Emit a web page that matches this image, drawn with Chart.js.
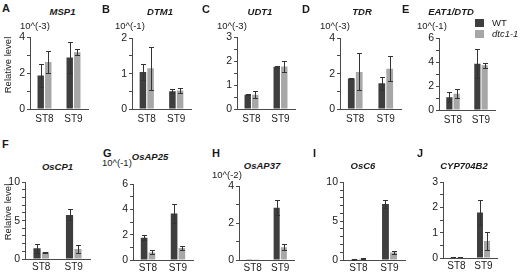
<!DOCTYPE html>
<html>
<head>
<meta charset="utf-8">
<script src="https://cdn.jsdelivr.net/npm/chart.js@4.4.0/dist/chart.umd.min.js"></script>
<style>
  html, body { margin: 0; padding: 0; background: #fff; }
  #fig { position: relative; width: 520px; height: 274px; background: #fff; overflow: hidden;
         font-family: 'Liberation Sans', Arial, sans-serif; color: #1a1a1a; }
  #fig canvas { position: absolute; }
  .t { position: absolute; line-height: 1; white-space: nowrap; }
</style>
</head>
<body>
<div id="fig"></div>
<script>
// data
const categories = ['ST8', 'ST9'];
const panelIds = ['A', 'B', 'C', 'D', 'E', 'F', 'G', 'H', 'I', 'J'];
const genes = ['MSP1', 'DTM1', 'UDT1', 'TDR', 'EAT1/DTD', 'OsCP1', 'OsAP25', 'OsAP37', 'OsC6', 'CYP704B2'];
const exponents = ['10^(-3)', '10^(-1)', '10^(-3)', '10^(-3)', '10^(-1)', '', '10^(-1)', '10^(-2)', '', ''];
const yMax = [4, 2, 3, 4, 6, 10, 6, 4, 10, 3];
const majorStep = [2, 1, 1, 2, 2, 5, 2, 2, 5, 1];
const minorStep = [1, 0.5, 0.5, 1, 1, 1, 1, 1, 1, 0.5];
const wtMean = [[1.87, 2.88], [1.05, 0.5], [0.6, 1.77], [1.72, 1.45], [1.06, 3.88],
                [1.4, 5.74], [1.77, 3.68], [0.02, 2.84], [0.1, 7.2], [0.03, 1.8]];
const wtErr = [[0.64, 0.88], [0.22, 0.06], [0.02, 0.05], [0.04, 0.37], [0.42, 1.22],
               [0.62, 0.72], [0.2, 0.72], [0, 0.4], [0.04, 0.55], [0.01, 0.5]];
const dtcMean = [[2.62, 3.17], [1.15, 0.52], [0.6, 1.78], [2.1, 2.28], [1.37, 3.74],
                 [0.87, 1.3], [0.6, 0.95], [0.02, 0.69], [0.15, 0.95], [0.04, 0.67]];
const dtcErr = [[0.63, 0.17], [0.6, 0.07], [0.15, 0.24], [1.05, 0.72], [0.35, 0.2],
                [0.05, 0.55], [0.16, 0.17], [0, 0.16], [0.05, 0.2], [0.01, 0.35]];

// layout of each panel: y axis x, pixel of yMax, pixel of zero, plot width
const axisX = [30, 132, 237, 340, 439, 25, 133, 239, 343, 443];
const topY = [37, 38, 37, 38, 38, 182, 184, 186, 182, 182];
const zeroY = [109, 109, 109, 109, 110, 259, 260, 260, 260, 258];
const plotW = [58, 59, 58, 61, 56, 65, 60, 55, 62, 54];

const WT_COLOR = '#3e3e3e';
const DTC_COLOR = '#a7a7a7';
const AXIS_COLOR = '#4a4a4a';
const FONT = "'Liberation Sans', Arial, sans-serif";
const yW = 22, padTop = 8, padR = 2, xH = 18;

const fig = document.getElementById('fig');

function addText(txt, x, y, css, anchor) {
    const d = document.createElement('div');
    d.className = 't';
    d.textContent = txt;
    d.style.left = x + 'px';
    d.style.top = y + 'px';
    const tx = anchor === 'c' ? '-50%' : (anchor === 'r' ? '-100%' : '0');
    d.style.transform = 'translate(' + tx + ',-50%)';
    d.style.cssText += css;
    fig.appendChild(d);
    return d;
}

// error bars drawn from each bar element and the y scale
const errorBars = {
    id: 'errorBars',
    afterDatasetsDraw(chart) {
        const ctx = chart.ctx;
        const y = chart.scales.y;
        ctx.save();
        ctx.strokeStyle = '#333';
        ctx.lineWidth = 1;
        chart.data.datasets.forEach((ds, i) => {
            chart.getDatasetMeta(i).data.forEach((bar, j) => {
                const e = ds.errors[j];
                if (!e) return;
                const v = ds.data[j];
                const top = Math.round(y.getPixelForValue(v + e)) + 0.5;
                const bot = Math.round(y.getPixelForValue(Math.max(v - e, 0))) + 0.5;
                const x = Math.round(bar.x) + 0.5;
                ctx.beginPath();
                ctx.moveTo(x, top); ctx.lineTo(x, bot);
                ctx.moveTo(x - 2.5, top); ctx.lineTo(x + 2.5, top);
                ctx.moveTo(x - 2.5, bot); ctx.lineTo(x + 2.5, bot);
                ctx.stroke();
            });
        });
        ctx.restore();
    }
};

panelIds.forEach((id, p) => {
    const row2 = p >= 5;
    const cv = document.createElement('canvas');
    const w = plotW[p] + yW + padR;
    const h = (zeroY[p] - topY[p]) + padTop + xH;
    cv.width = w; cv.height = h;
    cv.style.left = (axisX[p] - yW) + 'px';
    cv.style.top = (topY[p] - padTop) + 'px';
    fig.appendChild(cv);

    const major = majorStep[p];
    new Chart(cv, {
        type: 'bar',
        data: {
            labels: categories,
            datasets: [
                { label: 'WT', data: wtMean[p], errors: wtErr[p], backgroundColor: WT_COLOR },
                { label: 'dtc1-1', data: dtcMean[p], errors: dtcErr[p], backgroundColor: DTC_COLOR }
            ]
        },
        options: {
            responsive: false,
            animation: false,
            devicePixelRatio: 1,
            layout: { padding: { top: padTop, right: padR, left: 0, bottom: 0 } },
            datasets: { bar: { categoryPercentage: 0.52, barPercentage: 0.85 } },
            plugins: { legend: { display: false }, tooltip: { enabled: false } },
            scales: {
                x: {
                    grid: { display: false, drawTicks: false },
                    border: { color: AXIS_COLOR },
                    ticks: { font: { family: FONT, size: 10 }, color: '#1a1a1a', padding: row2 ? 2 : 4.5, maxRotation: 0 },
                    afterFit(s) { s.height = xH; }
                },
                y: {
                    min: 0,
                    max: yMax[p],
                    grid: { drawOnChartArea: false, drawTicks: true, tickLength: 3, color: AXIS_COLOR },
                    border: { color: AXIS_COLOR },
                    ticks: {
                        stepSize: minorStep[p],
                        autoSkip: false,
                        padding: 2,
                        font: { family: FONT, size: 10.5 },
                        color: '#1a1a1a',
                        callback: v => Math.abs(v / major - Math.round(v / major)) < 1e-6 ? String(v) : ''
                    },
                    afterFit(s) { s.width = yW; }
                }
            }
        },
        plugins: [errorBars]
    });
});

// panel letters, gene names, exponent labels
const letterPos = [[2, 8], [102, 8.5], [202, 8.5], [302, 8.5], [402, 8.5],
                   [2, 144], [103, 153], [212, 153], [313, 153], [417, 153]];
const genePos = [[62.5, 11.5], [160, 11.5], [260, 11.5], [362, 11.5], [451, 11.5],
                 [57.5, 167], [150, 157], [262, 166], [363, 166], [464, 166]];
const expPos = [[20, 25.5], [115, 25.5], [217, 25.5], [320, 25.5], [417, 25.5],
                null, [102, 163], [212, 174.5], null, null];

panelIds.forEach((id, p) => {
    addText(id, letterPos[p][0], letterPos[p][1], 'font-size:11px;font-weight:bold;', 'l');
    addText(genes[p], genePos[p][0], genePos[p][1], 'font-size:9.5px;font-weight:bold;font-style:italic;', 'c');
    if (exponents[p]) addText(exponents[p], expPos[p][0], expPos[p][1], 'font-size:9.5px;', 'l');
});

[[7.5, 65], [7.5, 212]].forEach(([x, y]) => {
    const d = addText('Relative level', x, y, 'font-size:9.5px;', 'c');
    d.style.transform = 'translate(-50%,-50%) rotate(-90deg)';
});

// legend (panel E)
[['WT', WT_COLOR, 23, ''], ['dtc1-1', DTC_COLOR, 33.5, 'font-style:italic;']].forEach(([txt, col, y, css]) => {
    const box = document.createElement('div');
    box.style.cssText = 'position:absolute;left:475px;top:' + (y - 4) + 'px;width:9px;height:8px;background:' + col + ';';
    fig.appendChild(box);
    addText(txt, 492, y, 'font-size:9.5px;' + css, 'l');
});
</script>
</body>
</html>
